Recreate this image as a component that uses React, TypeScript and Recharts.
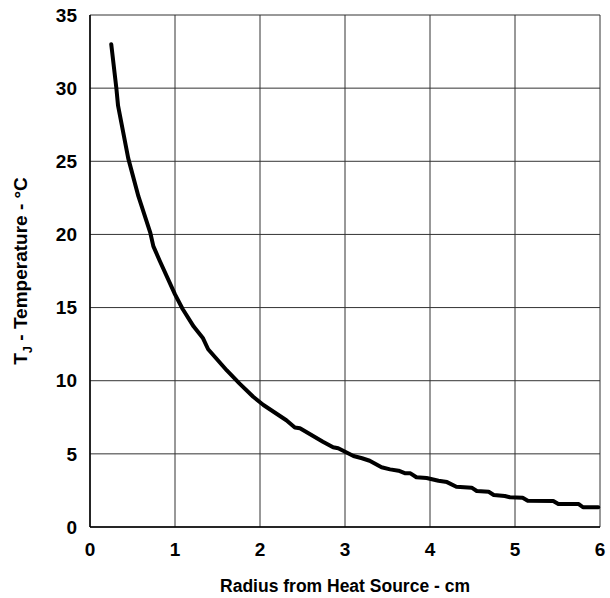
import React from "react";
import { LineChart, Line, XAxis, YAxis, CartesianGrid, Label } from "recharts";

const radius = [
  0.25, 0.31, 0.33, 0.45, 0.57, 0.71, 0.745, 0.82, 1.0, 1.09, 1.22, 1.33, 1.39, 1.61, 1.76, 1.92,
  2.04, 2.31, 2.41, 2.47, 2.74, 2.86, 2.92, 3.1, 3.2, 3.29, 3.43, 3.53, 3.63, 3.71, 3.77, 3.84,
  3.96, 4.1, 4.2, 4.31, 4.49, 4.55, 4.69, 4.75, 4.88, 4.94, 5.09, 5.15, 5.45, 5.51, 5.75, 5.8, 5.98,
];
const temperature = [
  33.0, 30.0, 28.8, 25.2, 22.6, 20.1, 19.2, 18.2, 15.9, 14.9, 13.7, 12.9, 12.15, 10.7, 9.8, 8.9,
  8.34, 7.3, 6.8, 6.75, 5.83, 5.45, 5.38, 4.85, 4.7, 4.53, 4.08, 3.94, 3.85, 3.67, 3.67, 3.4,
  3.35, 3.16, 3.07, 2.75, 2.69, 2.46, 2.41, 2.19, 2.12, 2.03, 2.0, 1.8, 1.78, 1.57, 1.57, 1.35, 1.35,
];
const xTicks = [0, 1, 2, 3, 4, 5, 6];
const yTicks = [0, 5, 10, 15, 20, 25, 30, 35];
const xTitle = "Radius from Heat Source - cm";

const data = radius.map((r, i) => ({ r, t: temperature[i] }));

const FONT = "'Liberation Sans', Arial, sans-serif";
const boldStyle = { fontFamily: FONT, fontWeight: 700 as const };

const XTick = (props: any) => {
  const { x, y, payload } = props;
  return (
    <text x={x} y={y} dy="0.71em" textAnchor="middle" style={boldStyle} fontSize={19} fill="#000">
      {payload.value}
    </text>
  );
};

const YTick = (props: any) => {
  const { x, y, payload } = props;
  return (
    <text x={x} y={y} dy="0.355em" textAnchor="end" style={boldStyle} fontSize={19} fill="#000">
      {payload.value}
    </text>
  );
};

const XTitle = (props: any) => {
  const vb = props.viewBox || {};
  return (
    <text x={vb.x + vb.width / 2} y={vb.y + 65} textAnchor="middle" style={boldStyle} fontSize={17.5} fill="#000">
      {xTitle}
    </text>
  );
};

const YTitle = (props: any) => {
  const vb = props.viewBox || {};
  const cx = 27;
  const cy = vb.y + vb.height / 2;
  return (
    <text
      x={cx}
      y={cy}
      textAnchor="middle"
      transform={`rotate(-90, ${cx}, ${cy})`}
      style={boldStyle}
      fontSize={19}
      fill="#000"
    >
      T<tspan fontSize={13} dy={5}>J</tspan>
      <tspan dy={-5}> - Temperature - °C</tspan>
    </text>
  );
};

export default function App() {
  return (
    <div style={{ position: "fixed", top: 0, left: 0, width: 610, height: 598, background: "#fff" }}>
      <LineChart
        width={610}
        height={598}
        data={data}
        margin={{ top: 15, right: 10, left: 0, bottom: 0 }}
      >
        <CartesianGrid stroke="#333" strokeWidth={1} />
        <XAxis
          dataKey="r"
          type="number"
          domain={[0, 6]}
          ticks={xTicks}
          interval={0}
          height={71}
          tickLine={false}
          tickSize={0}
          tickMargin={16}
          axisLine={{ stroke: "#000", strokeWidth: 1.5 }}
          tick={<XTick />}
        >
          <Label content={<XTitle />} />
        </XAxis>
        <YAxis
          type="number"
          domain={[0, 35]}
          ticks={yTicks}
          interval={0}
          width={90}
          tickLine={false}
          tickSize={0}
          tickMargin={13}
          axisLine={{ stroke: "#000", strokeWidth: 1.5 }}
          tick={<YTick />}
        >
          <Label content={<YTitle />} />
        </YAxis>
        <XAxis xAxisId="top" orientation="top" type="number" domain={[0, 6]} dataKey="r" height={0} tick={false} tickLine={false} axisLine={{ stroke: "#000", strokeWidth: 1.5 }} />
        <YAxis yAxisId="right" orientation="right" type="number" domain={[0, 35]} width={0} tick={false} tickLine={false} axisLine={{ stroke: "#000", strokeWidth: 1.5 }} />
        <Line
          type="linear"
          dataKey="t"
          stroke="#000"
          strokeWidth={4}
          dot={false}
          isAnimationActive={false}
          strokeLinejoin="round"
          strokeLinecap="round"
        />
      </LineChart>
    </div>
  );
}
